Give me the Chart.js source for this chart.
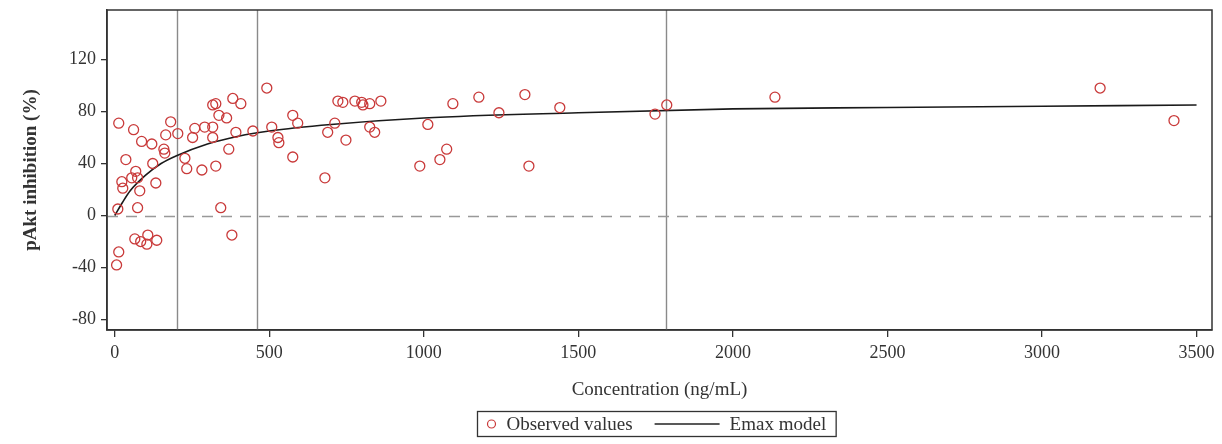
<!DOCTYPE html>
<html>
<head>
<meta charset="utf-8">
<script src="https://cdn.jsdelivr.net/npm/chart.js@4.4.1/dist/chart.umd.min.js"></script>
<style>
  html, body { margin: 0; padding: 0; background: #fff; }
  #wrap { width: 1222px; height: 444px; position: relative; }
</style>
</head>
<body>
<div id="wrap"><canvas id="chart"></canvas></div>
<script>
// Observed values (concentration ng/mL, pAkt inhibition %)
const obsConc = [13, 61, 87, 120, 181, 204, 165, 159, 162, 36, 123, 68, 23, 26, 55, 74, 81, 133, 10, 74,
  65, 84, 104, 107, 136, 13, 6, 227, 233, 259, 252, 282, 492, 317, 327, 382, 408, 337, 362, 317,
  317, 291, 392, 447, 508, 528, 531, 576, 576, 369, 327, 343, 379, 722, 738, 777, 799, 803, 825, 861,
  592, 712, 689, 825, 841, 748, 680, 1094, 1178, 1327, 1013, 1243, 1440, 1074, 1052, 987, 1340, 1748, 1786, 2136,
  3188, 3427];
const obsInhib = [71, 66, 57, 55, 72, 63, 62, 51, 48, 43, 40, 34, 26, 21, 29, 29, 19, 25, 5, 6,
  -18, -20, -22, -15, -19, -28, -38, 44, 36, 67, 60, 35, 98, 85, 86, 90, 86, 77, 75, 68,
  60, 68, 64, 65, 68, 60, 56, 77, 45, 51, 38, 6, -15, 88, 87, 88, 87, 85, 86, 88,
  71, 71, 64, 68, 64, 58, 29, 86, 91, 93, 70, 79, 83, 51, 43, 38, 38, 78, 85, 91,
  98, 73];

// Emax model curve
const modelConc = [0, 25, 50, 100, 150, 200, 300, 400, 500, 700, 1000, 1500, 2000, 2500, 3000, 3500];
const modelInhib = [0, 10, 19, 31, 40, 46, 55, 61, 65, 70, 75, 79, 82, 83, 84, 85];

// vertical reference lines
const refConc = [200, 460, 1785];

const xTicks = [0, 500, 1000, 1500, 2000, 2500, 3000, 3500];
const yTicks = [-80, -40, 0, 40, 80, 120];
const legendLabels = ['Observed values', 'Emax model'];

const SERIF = '"Liberation Serif", "Times New Roman", serif';
const INK = '#333';
const RED = '#c93a3a';

const obsPoints = obsConc.map((c, i) => ({ x: c, y: obsInhib[i] }));
const modelPoints = modelConc.map((c, i) => ({ x: c, y: modelInhib[i] }));

// reference lines, frame and boxed legend
const decorPlugin = {
  id: 'decor',
  beforeDatasetsDraw(chart) {
    const { ctx, chartArea: a, scales: { x, y } } = chart;
    ctx.save();
    ctx.strokeStyle = '#8a8a8a';
    ctx.lineWidth = 1.4;
    refConc.forEach(c => {
      const px = Math.round(x.getPixelForValue(c)) + 0.5;
      ctx.beginPath();
      ctx.moveTo(px, a.top);
      ctx.lineTo(px, a.bottom);
      ctx.stroke();
    });
    // dashed zero line
    const py = Math.round(y.getPixelForValue(0)) + 0.5;
    ctx.strokeStyle = '#999';
    ctx.setLineDash([11, 8]);
    ctx.beginPath();
    ctx.moveTo(a.left, py);
    ctx.lineTo(a.right, py);
    ctx.stroke();
    ctx.restore();
  },
  afterDraw(chart) {
    const { ctx, chartArea: a } = chart;
    ctx.save();
    ctx.strokeStyle = INK;
    ctx.lineWidth = 1.5;
    ctx.strokeRect(a.left, a.top, a.right - a.left, a.bottom - a.top);

    // legend
    ctx.font = '19px ' + SERIF;
    const w1 = ctx.measureText(legendLabels[0]).width;
    const w2 = ctx.measureText(legendLabels[1]).width;
    const padL = 9, mark = 10, gap1 = 10, gap2 = 22, lineLen = 65, gap3 = 10, padR = 10;
    const total = padL + mark + gap1 + w1 + gap2 + lineLen + gap3 + w2 + padR;
    const bx = Math.round((a.left + a.right) / 2 - total / 2) - 2.5;
    const by = 411.5, bh = 25;
    const cy = by + bh / 2;
    ctx.lineWidth = 1.3;
    ctx.strokeRect(bx, by, total, bh);

    let cx = bx + padL;
    ctx.strokeStyle = RED;
    ctx.lineWidth = 1.2;
    ctx.beginPath();
    ctx.arc(cx + mark / 2, cy, 4, 0, Math.PI * 2);
    ctx.stroke();
    cx += mark + gap1;
    ctx.fillStyle = INK;
    ctx.textBaseline = 'middle';
    ctx.fillText(legendLabels[0], cx, cy + 1);
    cx += w1 + gap2;
    ctx.strokeStyle = '#222';
    ctx.lineWidth = 1.5;
    ctx.beginPath();
    ctx.moveTo(cx, cy);
    ctx.lineTo(cx + lineLen, cy);
    ctx.stroke();
    cx += lineLen + gap3;
    ctx.fillText(legendLabels[1], cx, cy + 1);
    ctx.restore();
  }
};

const chart = new Chart(document.getElementById('chart'), {
  type: 'scatter',
  data: {
    datasets: [
      {
        label: legendLabels[0],
        data: obsPoints,
        pointStyle: 'circle',
        pointRadius: 5,
        pointBorderWidth: 1.3,
        pointBackgroundColor: 'rgba(0,0,0,0)',
        pointBorderColor: RED
      },
      {
        type: 'line',
        label: legendLabels[1],
        data: modelPoints,
        borderColor: '#1a1a1a',
        borderWidth: 1.6,
        pointRadius: 0,
        fill: false,
        cubicInterpolationMode: 'monotone'
      }
    ]
  },
  options: {
    responsive: true,
    maintainAspectRatio: false,
    animation: false,
    layout: { padding: { top: 10, right: 10, bottom: 40, left: 0 } },
    plugins: {
      legend: { display: false },
      tooltip: { enabled: false }
    },
    scales: {
      x: {
        type: 'linear',
        min: -25,
        max: 3550,
        afterBuildTicks: s => { s.ticks = xTicks.map(v => ({ value: v })); },
        afterFit: s => { s.height = 74; s.paddingLeft = 0; s.paddingRight = 0; },
        grid: { drawOnChartArea: false, drawTicks: true, tickLength: 7, color: INK, lineWidth: 1.3 },
        border: { display: true, color: INK, width: 1.5 },
        ticks: { color: INK, font: { family: SERIF, size: 18 }, padding: 5, maxRotation: 0, callback: v => String(v) },
        title: {
          display: true,
          text: 'Concentration (ng/mL)',
          color: INK,
          font: { family: SERIF, size: 19 },
          padding: { top: 4, bottom: 3 }
        }
      },
      y: {
        type: 'linear',
        min: -88,
        max: 158,
        afterBuildTicks: s => { s.ticks = yTicks.map(v => ({ value: v })); },
        afterFit: s => { s.width = 107; s.paddingTop = 0; s.paddingBottom = 0; },
        grid: { drawOnChartArea: false, drawTicks: true, tickLength: 6, color: INK, lineWidth: 1.3 },
        border: { display: true, color: INK, width: 1.5 },
        ticks: { color: INK, font: { family: SERIF, size: 18 }, padding: 5, callback: v => String(v) },
        title: {
          display: true,
          text: 'pAkt inhibition (%)',
          color: INK,
          font: { family: SERIF, size: 19, weight: 'bold' },
          padding: { top: 20, bottom: 0 }
        }
      }
    }
  },
  plugins: [decorPlugin]
});
</script>
</body>
</html>
